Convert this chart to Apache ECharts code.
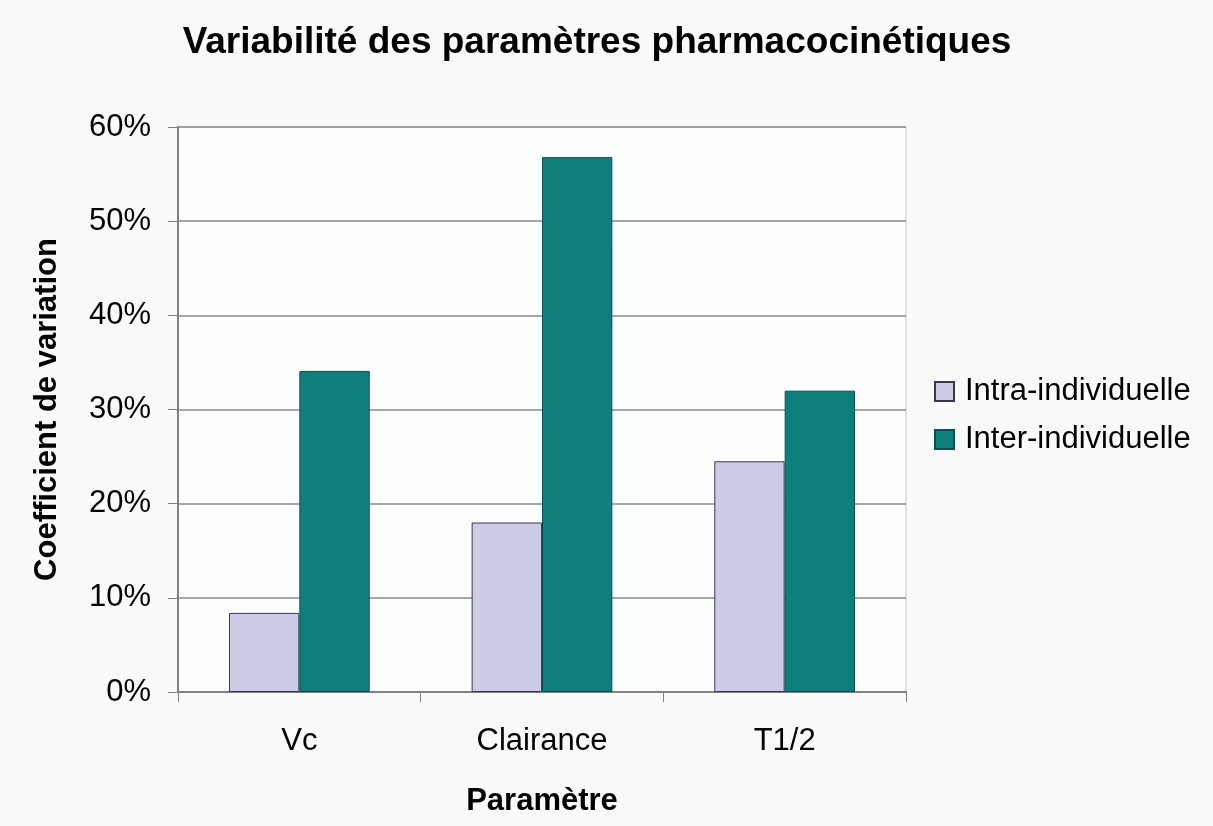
<!DOCTYPE html>
<html>
<head>
<meta charset="utf-8">
<script src="https://cdn.jsdelivr.net/npm/echarts@6/dist/echarts.min.js"></script>
<style>
  html, body { margin: 0; padding: 0; background: #f9fafa; }
  #chart { width: 1213px; height: 826px; }
</style>
</head>
<body>
<div id="chart"></div>
<script>
// données
const categories = ['Vc', 'Clairance', 'T1/2'];
const intraValues = [8.4, 18.0, 24.5];
const interValues = [34.1, 56.8, 32.0];
const seriesNames = ['Intra-individuelle', 'Inter-individuelle'];

const font = 'Liberation Sans, Arial, sans-serif';
const chart = echarts.init(document.getElementById('chart'));

const option = {
  backgroundColor: '#f9fafa',
  animation: false,
  title: {
    text: 'Variabilité des paramètres pharmacocinétiques',
    left: 592,
    top: 19,
    textAlign: 'center',
    textStyle: { fontFamily: font, fontSize: 37, fontWeight: 'bold', color: '#000' }
  },
  legend: {
    orient: 'vertical',
    left: 929,
    top: 371,
    icon: 'rect',
    itemWidth: 19,
    itemHeight: 19,
    itemGap: 17,
    textStyle: { fontFamily: font, fontSize: 31, color: '#000', padding: [0, 0, 0, 6] },
    data: seriesNames
  },
  grid: {
    left: 178,
    right: 1213 - 906,
    top: 127,
    bottom: 826 - 692,
    show: true,
    backgroundColor: '#fdfefe',
    borderColor: '#c8c8c8',
    borderWidth: 1
  },
  xAxis: {
    type: 'category',
    data: categories,
    name: 'Paramètre',
    nameLocation: 'middle',
    nameGap: 94,
    nameTextStyle: { fontFamily: font, fontSize: 31, fontWeight: 'bold', color: '#000' },
    axisLine: { lineStyle: { color: '#808080', width: 2 } },
    axisTick: { show: true, length: 10, lineStyle: { color: '#808080' } },
    axisLabel: { fontFamily: font, fontSize: 31, color: '#000', margin: 34 }
  },
  yAxis: {
    type: 'value',
    min: 0,
    max: 60,
    interval: 10,
    name: 'Coefficient de variation',
    nameLocation: 'middle',
    nameGap: 115,
    nameTextStyle: { fontFamily: font, fontSize: 31, fontWeight: 'bold', color: '#000' },
    axisLine: { show: true, lineStyle: { color: '#808080', width: 2 } },
    axisTick: { show: true, length: 10, lineStyle: { color: '#808080' } },
    axisLabel: { fontFamily: font, fontSize: 31, color: '#000', margin: 27, formatter: '{value}%' },
    splitLine: { lineStyle: { color: '#8a8a8a', width: 1.5 } }
  },
  series: [
    {
      name: seriesNames[0],
      type: 'bar',
      data: intraValues,
      barGap: '0%',
      barCategoryGap: '42%',
      itemStyle: { color: '#ccccе6'.replace('е', 'e'), borderColor: '#3a3a4a', borderWidth: 1 }
    },
    {
      name: seriesNames[1],
      type: 'bar',
      data: interValues,
      barGap: '0%',
      barCategoryGap: '42%',
      itemStyle: { color: '#0f7f7c', borderColor: '#0b4f55', borderWidth: 1 }
    }
  ]
};

chart.setOption(option);
</script>
</body>
</html>
